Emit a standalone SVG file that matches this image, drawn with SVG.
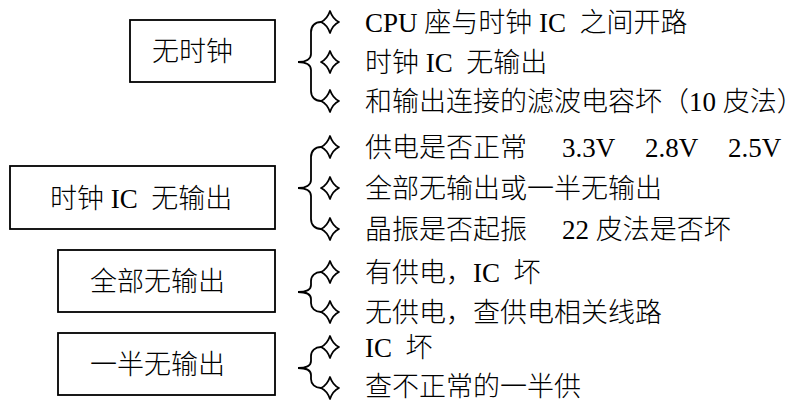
<svg xmlns="http://www.w3.org/2000/svg" xmlns:xlink="http://www.w3.org/1999/xlink" width="806" height="406" viewBox="0 0 806 406">
<style>
text{font-family:"Liberation Serif","Noto Sans CJK SC",serif;font-size:27px;font-weight:300;fill:#000;white-space:pre}
.box{fill:#fff;stroke:#000;stroke-width:1.8}
.brace{fill:none;stroke:#000;stroke-width:1.8;stroke-linecap:round}
.star{fill:#fff;stroke:#000;stroke-width:1.8;stroke-linejoin:round}
</style>
<defs>
<path id="star" class="star" d="M0,-11 Q2.8,-2.8 9,0 Q2.8,2.8 0,11 Q-2.8,2.8 -9,0 Q-2.8,-2.8 0,-11 Z"/>
</defs>
<rect width="806" height="406" fill="#fff"/>
<g id="node-wushizhong">
<rect class="box" x="130" y="20" width="145" height="62"/>
<text x="152" y="61">无时钟</text>
</g>
<g id="node-shizhong-ic">
<rect class="box" x="10" y="166" width="265" height="63"/>
<text x="50" y="207.5">时钟 IC  无输出</text>
</g>
<g id="node-quanbu">
<rect class="box" x="58" y="250" width="217" height="62"/>
<text x="90" y="291">全部无输出</text>
</g>
<g id="node-yiban">
<rect class="box" x="58" y="333" width="217" height="62"/>
<text x="90" y="374">一半无输出</text>
</g>
<g id="connectors">
<path class="brace" d="M321,22 C315,22 311,26 311,32 L311,54 C311,59 306,62 298,62 C306,62 311,65 311,70 L311,91 C311,97 315,101 321,101"/>
<path class="brace" d="M321,147 C315,147 311,151 311,157 L311,180 C311,185 306,188 298,188 C306,188 311,191 311,196 L311,219 C311,225 315,229 321,229"/>
<path class="brace" d="M321,272 C315,272 311,276 311,281 L311,285 C311,290 306,292 298,292 C306,292 311,294 311,299 L311,303 C311,308 315,312 321,312"/>
<path class="brace" d="M321,347 C315,347 311,351 311,356 L311,361 C311,366 306,368 298,368 C306,368 311,370 311,375 L311,379 C311,384 315,388 321,388"/>
<use xlink:href="#star" x="330" y="22"/>
<use xlink:href="#star" x="330" y="62"/>
<use xlink:href="#star" x="330" y="101"/>
<use xlink:href="#star" x="330" y="147"/>
<use xlink:href="#star" x="330" y="188"/>
<use xlink:href="#star" x="330" y="229"/>
<use xlink:href="#star" x="330" y="272"/>
<use xlink:href="#star" x="330" y="312"/>
<use xlink:href="#star" x="330" y="347"/>
<use xlink:href="#star" x="330" y="388"/>
</g>
<g id="items">
<text x="365" y="31.5">CPU 座与时钟 IC  之间开路</text>
<text x="365" y="71.5">时钟 IC  无输出</text>
<text x="365" y="110.5">和输出连接的滤波电容坏（10 皮法）</text>
<text x="365" y="156.5">供电是否正常<tspan x="562">3.3V</tspan><tspan x="645">2.8V</tspan><tspan x="728">2.5V</tspan></text>
<text x="365" y="197.5">全部无输出或一半无输出</text>
<text x="365" y="238.5">晶振是否起振<tspan x="562">22 皮法是否坏</tspan></text>
<text x="365" y="281.5">有供电，IC  坏</text>
<text x="365" y="321.5">无供电，查供电相关线路</text>
<text x="365" y="356.5">IC  坏</text>
<text x="365" y="395.5">查不正常的一半供</text>
</g>
</svg>
